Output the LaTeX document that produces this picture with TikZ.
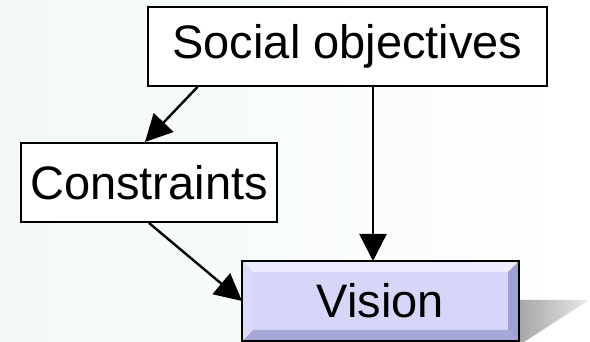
\documentclass[tikz,border=0pt]{standalone}
\usepackage{fontspec}
\setmainfont{Liberation Sans}
\usepackage{tikz}
\usetikzlibrary{arrows.meta}
\usetikzlibrary{positioning}
\definecolor{visionfill}{RGB}{214,214,248}
\definecolor{bevellight}{RGB}{236,236,254}
\definecolor{beveldark}{RGB}{160,160,210}
\definecolor{bgtint}{RGB}{242,249,247}
\tikzstyle{every node}+=[inner sep=0pt]
\tikzstyle{block} = [rectangle, draw, line width=2pt, fill=white, font=\fontsize{47}{52}\selectfont, text centered, minimum height=79pt]
\tikzstyle{line} = [draw, line width=2.4pt, -{Triangle[length=27pt,width=27pt]}]

\begin{document}
\begin{tikzpicture}[node distance = 2cm, auto]
            % Background
            \shade [left color=bgtint, right color=white] (0,0) rectangle (590pt,-342pt);
            \useasboundingbox (0,0) rectangle (590pt,-342pt);
            % Place nodes
            \node [block, minimum width=399pt] at (347.5pt,-46.5pt) (social) {Social objectives};
            \node [block, minimum width=256pt, below of=social, node distance=136pt, xshift=-198.5pt] (constr) {Constraints};
            \node [block, minimum width=275pt, minimum height=78pt, fill=visionfill, below of=social, node distance=254.5pt, xshift=33pt] (vision) {Vision};
            % Shadow and bevel of the vision box
            \shade [left color=black!35, right color=black!8]
                ([yshift=1pt]vision.east) -- ++(70pt,0) -- ++(-65pt,-42pt) -- ([yshift=-41pt]vision.east) -- cycle;
            \fill [bevellight] (vision.north west) -- (vision.north east) -- ([shift={(-11pt,-11pt)}]vision.north east) -- ([shift={(11pt,-11pt)}]vision.north west) -- cycle;
            \fill [beveldark] (vision.north east) -- (vision.south east) -- ([shift={(-11pt,11pt)}]vision.south east) -- ([shift={(-11pt,-11pt)}]vision.north east) -- cycle;
            \fill [beveldark!85!visionfill] (vision.south west) -- (vision.south east) -- ([shift={(-11pt,11pt)}]vision.south east) -- ([shift={(11pt,11pt)}]vision.south west) -- cycle;
            \fill [visionfill!80!bevellight] (vision.north west) -- (vision.south west) -- ([shift={(11pt,11pt)}]vision.south west) -- ([shift={(11pt,-11pt)}]vision.north west) -- cycle;
            \draw [line width=2pt] (vision.north west) rectangle (vision.south east);
            % Draw edges
            \path [line] ([xshift=-150pt]social.south) -- ([xshift=-4pt]constr.north);
            \path [line] ([xshift=25.5pt]social.south) -- ([xshift=25.5pt]social.south |- vision.north);
            \path [line] (constr.south) -- (vision.west);
          \end{tikzpicture}
\end{document}
